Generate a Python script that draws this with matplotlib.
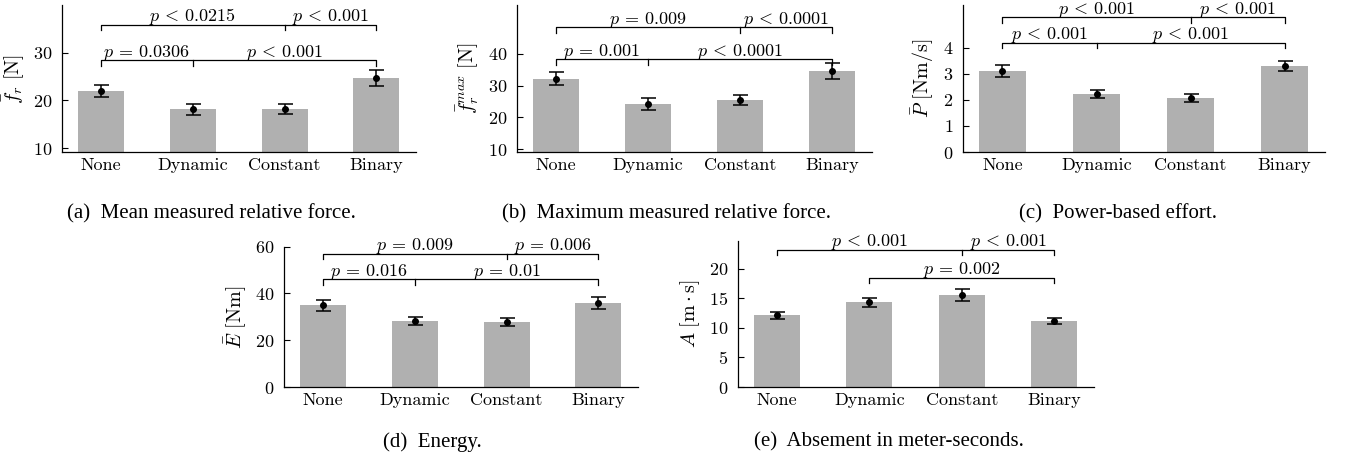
import matplotlib
matplotlib.use('Agg')
import matplotlib.pyplot as plt
import numpy as np

plt.rcParams['font.family'] = 'cmr10'
plt.rcParams['mathtext.fontset'] = 'cm'
plt.rcParams['axes.formatter.use_mathtext'] = True
plt.rcParams['axes.unicode_minus'] = False

# ---- data ----
groups = ["None", "Dynamic", "Constant", "Binary"]

force_mean = [22.0, 18.2, 18.2, 24.7]
force_err = [1.3, 1.15, 1.05, 1.65]

fmax_mean = [32.1, 24.2, 25.5, 34.6]
fmax_err = [2.05, 1.9, 1.65, 2.45]

power_mean = [3.11, 2.22, 2.06, 3.30]
power_err = [0.23, 0.16, 0.155, 0.195]

energy_mean = [35.0, 28.2, 27.7, 35.9]
energy_err = [2.35, 1.85, 1.8, 2.55]

absement_mean = [12.1, 14.3, 15.5, 11.1]
absement_err = [0.6, 0.8, 1.0, 0.5]

# brackets: (start group, end group, middle tick group or None, height, labels)
force_brackets = [(0, 3, 1, 28.5, [r"$p \,=\, 0.0306$", r"$p \,<\, 0.001$"]),
                  (0, 3, 2, 35.9, [r"$p \,<\, 0.0215$", r"$p \,<\, 0.001$"])]
fmax_brackets = [(0, 3, 1, 38.3, [r"$p \,=\, 0.001$", r"$p \,<\, 0.0001$"]),
                 (0, 3, 2, 48.4, [r"$p \,=\, 0.009$", r"$p \,<\, 0.0001$"])]
power_brackets = [(0, 3, 1, 4.19, [r"$p \,<\, 0.001$", r"$p \,<\, 0.001$"]),
                  (0, 3, 2, 5.16, [r"$p \,<\, 0.001$", r"$p \,<\, 0.001$"])]
energy_brackets = [(0, 3, 1, 46.0, [r"$p \,=\, 0.016$", r"$p \,=\, 0.01$"]),
                   (0, 3, 2, 56.9, [r"$p \,=\, 0.009$", r"$p \,=\, 0.006$"])]
absement_brackets = [(1, 3, None, 18.4, [r"$p \,=\, 0.002$"]),
                     (0, 3, 2, 23.2, [r"$p \,<\, 0.001$", r"$p \,<\, 0.001$"])]

W, H = 1347, 461
FS = 13
PFS = 13
BAR_COLOR = '#b0b0b0'


def make_axes(fig, left, right, top, bottom):
    return fig.add_axes([left / W, 1 - bottom / H, (right - left) / W, (bottom - top) / H])


def draw_panel(ax, means, errs, brackets, ylim, yticks, ylabel):
    x = np.arange(len(groups))
    ax.bar(x, means, width=0.5, color=BAR_COLOR, zorder=1)
    ax.errorbar(x, means, yerr=errs, fmt='o', color='black', markersize=4,
                capsize=5.4, elinewidth=1.1, capthick=1.1, zorder=3)
    ax.set_xlim(-0.42, 3.43)
    ax.set_ylim(*ylim)
    ax.set_yticks(yticks)
    ax.set_xticks(x)
    ax.set_xticklabels(groups, fontsize=FS)
    ax.tick_params(axis='x', length=0, pad=4)
    ax.tick_params(axis='y', direction='in', length=4.3, width=0.8, pad=7, labelsize=FS)
    for s in ['top', 'right']:
        ax.spines[s].set_visible(False)
    for s in ['left', 'bottom']:
        ax.spines[s].set_linewidth(0.9)
    ax.set_ylabel(ylabel, fontsize=14.5, labelpad=5)

    drop = 0.037 * (ylim[1] - ylim[0])
    for g0, g1, mid, h, labels in brackets:
        kw = dict(color='black', lw=0.9, clip_on=False, zorder=4)
        ax.plot([g0, g0, g1, g1], [h - drop, h, h, h - drop], **kw)
        if mid is not None:
            ax.plot([mid, mid], [h, h - drop], **kw)
            segs = [(g0 + mid) / 2, (mid + g1) / 2]
        else:
            segs = [(g0 + g1) / 2]
        for xc, lab in zip(segs, labels):
            ax.annotate(lab, (xc, h), xytext=(0, 2.6), textcoords='offset points',
                        ha='center', va='baseline', fontsize=PFS, annotation_clip=False)


fig = plt.figure(figsize=(W / 100, H / 100), dpi=100)

ax_a = make_axes(fig, 62, 416, 5, 152)
draw_panel(ax_a, force_mean, force_err, force_brackets, (9.16, 40.1), [10, 20, 30],
           r"$\bar{f}_r\ [\mathrm{N}]$")

ax_b = make_axes(fig, 517, 872, 5, 152)
draw_panel(ax_b, fmax_mean, fmax_err, fmax_brackets, (9.1, 55.4), [10, 20, 30, 40],
           r"$\bar{f}_r^{max}\ [\mathrm{N}]$")

ax_c = make_axes(fig, 963, 1325, 5, 152)
draw_panel(ax_c, power_mean, power_err, power_brackets, (0, 5.63), [0, 1, 2, 3, 4],
           r"$\bar{P}\ [\mathrm{Nm/s}]$")

ax_d = make_axes(fig, 284, 638, 246.7, 387)
draw_panel(ax_d, energy_mean, energy_err, energy_brackets, (0, 60), [0, 20, 40, 60],
           r"$\bar{E}\ [\mathrm{Nm}]$")

ax_e = make_axes(fig, 738, 1094, 240.7, 387)
draw_panel(ax_e, absement_mean, absement_err, absement_brackets, (0, 24.7), [0, 5, 10, 15, 20],
           r"$A\ [\mathrm{m}\cdot\mathrm{s}]$")

captions = [("(a)  Mean measured relative force.", 211, 214),
            ("(b)  Maximum measured relative force.", 666, 214),
            ("(c)  Power-based effort.", 1118, 214),
            ("(d)  Energy.", 432, 442),
            ("(e)  Absement in meter-seconds.", 889, 442)]
for txt, cx, cy in captions:
    fig.text(cx / W, 1 - cy / H, txt, ha='center', va='center', fontsize=15,
             family='Liberation Serif')

fig.savefig('out.png', dpi=100)
